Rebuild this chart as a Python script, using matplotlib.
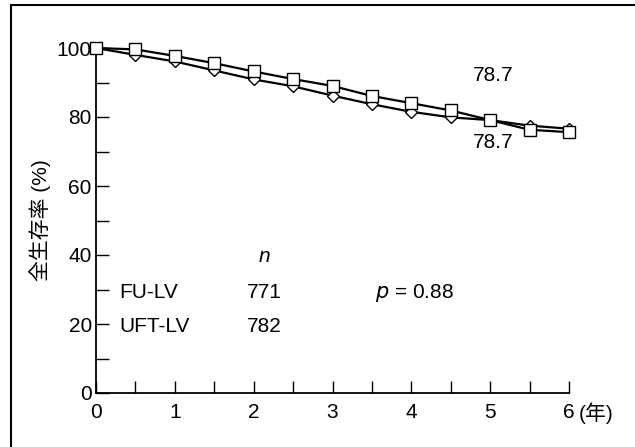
import matplotlib
matplotlib.use('Agg')
import matplotlib.pyplot as plt
from matplotlib.lines import Line2D
from matplotlib.ticker import MultipleLocator

plt.rcParams['font.family'] = ['Liberation Sans', 'Noto Sans CJK JP']

# survival data (years vs %)
years = [0, 0.5, 1, 1.5, 2, 2.5, 3, 3.5, 4, 4.5, 5, 5.5, 6]
fu_lv = [100, 99.6, 97.7, 95.6, 93.2, 91.0, 89.0, 86.1, 84.0, 81.9, 79.1, 76.3, 75.6]
uft_lv = [100, 98.0, 96.1, 93.5, 90.9, 88.9, 86.2, 83.7, 81.5, 79.9, 79.1, 77.5, 76.6]

groups = ['FU-LV', 'UFT-LV']
n_values = [771, 782]
p_text = '0.88'
final_rates = ['78.7', '78.7']

fig = plt.figure(figsize=(6.35, 4.47), dpi=100)
ax = fig.add_axes([96 / 635, 54 / 447, 473 / 635, 345 / 447])

ax.plot(years, uft_lv, color='black', lw=1.6, marker='D', ms=6.5,
        mfc='white', mec='black', mew=1.0, clip_on=False, zorder=3)
ax.plot(years, fu_lv, color='black', lw=1.6, marker='s', ms=8,
        mfc='white', mec='black', mew=1.0, clip_on=False, zorder=4)

ax.set_xlim(0, 6)
ax.set_ylim(0, 100)
ax.xaxis.set_major_locator(MultipleLocator(1))
ax.xaxis.set_minor_locator(MultipleLocator(0.5))
ax.yaxis.set_major_locator(MultipleLocator(20))
ax.yaxis.set_minor_locator(MultipleLocator(10))
ax.tick_params(which='both', direction='in', length=9, width=1.0,
               labelsize=15, color='black')
ax.tick_params(axis='x', which='major', pad=7)
ax.tick_params(axis='y', which='major', pad=3)
for s in ['top', 'right']:
    ax.spines[s].set_visible(False)
for s in ['left', 'bottom']:
    ax.spines[s].set_linewidth(1.3)

ax.set_ylabel('全生存率 (%)', fontsize=15, labelpad=4)
ax.text(6.13, -0.027, '(年)', transform=ax.get_xaxis_transform(),
        fontsize=15, va='top', ha='left')

# group table
ax.text(2.14, 39.5, 'n', fontsize=15, style='italic', ha='center', va='center')
ax.text(0.30, 29, groups[0], fontsize=15, va='center')
ax.text(0.30, 19.3, groups[1], fontsize=15, va='center')
ax.text(1.92, 29, str(n_values[0]), fontsize=15, va='center')
ax.text(1.92, 19.3, str(n_values[1]), fontsize=15, va='center')
ax.text(3.54, 29, '$p$ = ' + p_text, fontsize=15, va='center')

ax.text(5.04, 92, final_rates[0], fontsize=15, ha='center', va='center')
ax.text(5.04, 72.5, final_rates[1], fontsize=15, ha='center', va='center')

# outer frame (top and left edges)
fig.add_artist(Line2D([11 / 635, 1], [1 - 5 / 447, 1 - 5 / 447],
                      color='black', lw=1.5, transform=fig.transFigure))
fig.add_artist(Line2D([11 / 635, 11 / 635], [0, 1 - 5 / 447],
                      color='black', lw=1.5, transform=fig.transFigure))

fig.savefig('out.png', dpi=100)
